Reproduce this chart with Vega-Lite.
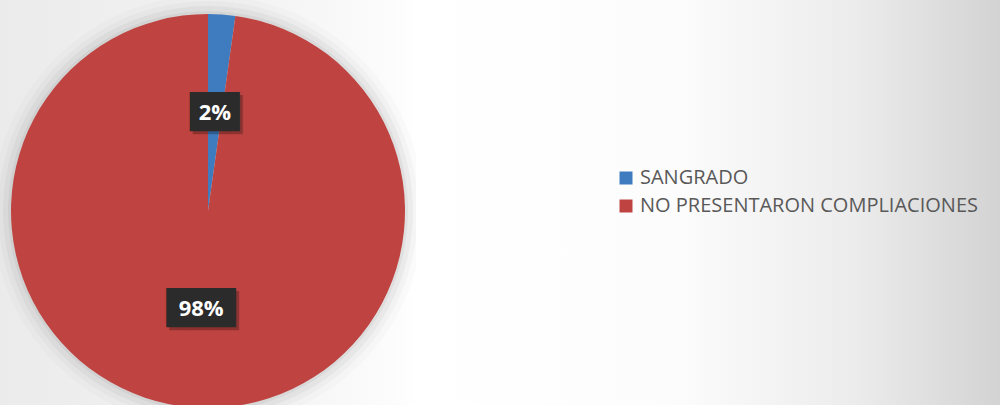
{
  "$schema": "https://vega.github.io/schema/vega-lite/v6.json",
  "padding": 0,
  "spacing": 0,
  "background": "#ffffff",
  "datasets": {
    "pie": [
      {"categoria": "SANGRADO", "valor": 1, "etiqueta": "2%"},
      {"categoria": "NO PRESENTARON COMPLIACIONES", "valor": 44, "etiqueta": "98%"}
    ]
  },
  "config": {"view": {"stroke": null}},
  "hconcat": [
    {
      "width": 416,
      "height": 422,
      "data": {"name": "pie"},
      "view": {
        "stroke": null,
        "fill": {
          "gradient": "linear", "x1": 0, "y1": 0, "x2": 1, "y2": 0,
          "stops": [
            {"offset": 0, "color": "#ebebeb"},
            {"offset": 0.6, "color": "#f3f3f3"},
            {"offset": 0.95, "color": "#fcfcfc"},
            {"offset": 1, "color": "#ffffff"}
          ]
        }
      },
      "encoding": {
        "theta": {"field": "valor", "type": "quantitative", "stack": true},
        "order": {"field": "valor", "sort": "ascending"}
      },
      "layer": [
        {"mark": {"type": "arc", "radius": 216, "color": "#000000", "opacity": 0.015, "clip": true}},
        {"mark": {"type": "arc", "radius": 210, "color": "#000000", "opacity": 0.025, "clip": true}},
        {"mark": {"type": "arc", "radius": 205, "color": "#000000", "opacity": 0.035, "clip": true}},
        {"mark": {"type": "arc", "radius": 200, "color": "#000000", "opacity": 0.045, "clip": true}},
        {
          "mark": {"type": "arc", "radius": 197},
          "encoding": {
            "color": {
              "field": "categoria",
              "type": "nominal",
              "scale": {
                "domain": ["SANGRADO", "NO PRESENTARON COMPLIACIONES"],
                "range": ["#3f7bbf", "#bf4441"]
              },
              "legend": {
                "orient": "none",
                "legendX": 616,
                "legendY": 168,
                "title": null,
                "symbolType": "square",
                "symbolSize": 169,
                "symbolStrokeWidth": 0,
                "symbolOpacity": 1,
                "labelFont": "Open Sans",
                "labelFontSize": 20,
                "labelColor": "#595959",
                "rowPadding": 8,
                "labelOffset": 4,
                "padding": 0,
                "labelLimit": 0
              }
            }
          }
        },
        {
          "mark": {"type": "text", "radius": 98.5, "font": "DejaVu Sans Mono", "fontSize": 33, "color": "#000000", "opacity": 0.25, "dx": 8, "dy": 3, "baseline": "middle"},
          "encoding": {"text": {"condition": {"test": "datum.valor < 10", "value": "██▌"}, "value": "███▌"}}
        },
        {
          "mark": {"type": "text", "radius": 98.5, "font": "DejaVu Sans Mono", "fontSize": 33, "color": "#2b2b2b", "dx": 5, "baseline": "middle"},
          "encoding": {"text": {"condition": {"test": "datum.valor < 10", "value": "██▌"}, "value": "███▌"}}
        },
        {
          "mark": {"type": "text", "radius": 98.5, "font": "Open Sans", "fontSize": 22, "fontWeight": "bold", "color": "#ffffff", "baseline": "middle"},
          "encoding": {"text": {"field": "etiqueta"}}
        }
      ]
    },
    {
      "width": 584,
      "height": 422,
      "data": {"name": "pie"},
      "view": {
        "stroke": null,
        "fill": {
          "gradient": "linear", "x1": 0, "y1": 0, "x2": 1, "y2": 0,
          "stops": [
            {"offset": 0, "color": "#ffffff"},
            {"offset": 0.45, "color": "#fcfcfc"},
            {"offset": 0.75, "color": "#ececec"},
            {"offset": 1, "color": "#d3d3d3"}
          ]
        }
      },
      "mark": {"type": "text"},
      "encoding": {"text": {"value": ""}}
    }
  ]
}
